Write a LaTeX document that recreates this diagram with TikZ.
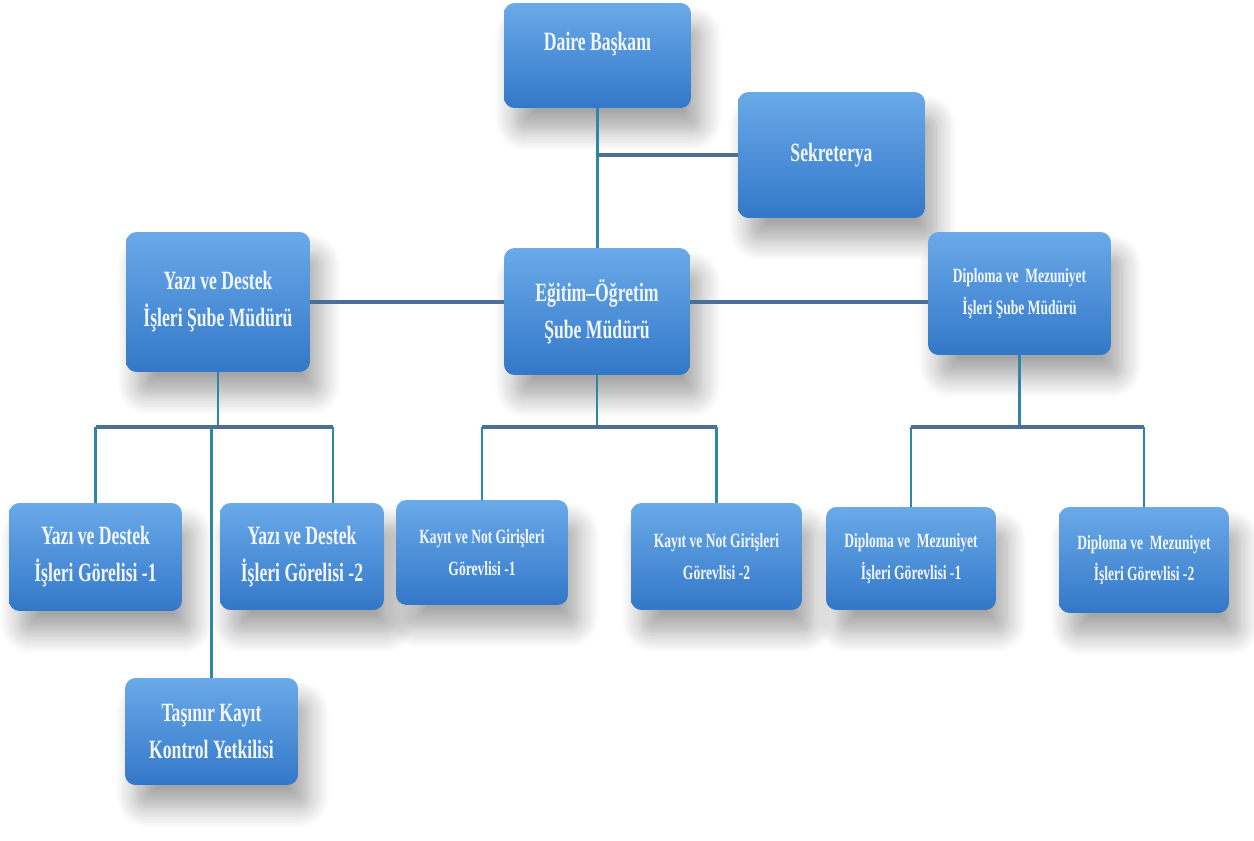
\documentclass[tikz,border=0pt]{standalone}
\usepackage{fontspec}
\setmainfont{Liberation Serif}[FakeStretch=0.67]
\usetikzlibrary{shadows.blur}
\definecolor{boxtop}{HTML}{6AAAE9}
\definecolor{boxbot}{HTML}{3377C8}
\definecolor{stemcol}{HTML}{2C88A6}
\definecolor{buscol}{HTML}{4C6F98}
\definecolor{txtcol}{HTML}{F2F6FF}
\tikzset{
  unit/.style={rounded corners=6pt, top color=boxtop, bottom color=boxbot,
    draw=none, text=txtcol, align=center, inner sep=2pt,
    font=\bfseries\fontsize{15}{21}\selectfont,
    blur shadow={shadow xshift=0.22cm, shadow yshift=-0.45cm,
      shadow blur radius=0.4cm, shadow blur steps=14, shadow opacity=35}},
  smallunit/.style={unit, font=\bfseries\fontsize{11.5}{18}\selectfont},
  stem/.style={stemcol, line width=1.6pt},
  bus/.style={buscol, line width=2.8pt},
}
\begin{document}
\begin{tikzpicture}[x=0.02cm,y=-0.02cm]
  \useasboundingbox (0,0) rectangle (1254,841);
  % top
  \node[unit, minimum width=3.74cm, minimum height=2.1cm, text depth=0.55cm] at (597.5,55.5) (daire) {Daire Başkanı};
  \node[unit, minimum width=3.74cm, minimum height=2.52cm] at (831.5,155) (sekr) {Sekreterya};
  % managers
  \node[unit, minimum width=3.68cm, minimum height=2.8cm] at (218,302) (yazisube) {Yazı ve Destek\\İşleri Şube Müdürü};
  \node[unit, minimum width=3.72cm, minimum height=2.54cm] at (597,311.5) (egitim) {Eğitim–Öğretim\\Şube Müdürü};
  \node[smallunit, minimum width=3.66cm, minimum height=2.46cm] at (1019.5,293.5) (diplsube) {Diploma ve~ Mezuniyet\\İşleri Şube Müdürü};
  % staff
  \node[unit, minimum width=3.46cm, minimum height=2.16cm] at (95.5,557) (yazi1) {Yazı ve Destek\\İşleri Görelisi -1};
  \node[unit, minimum width=3.28cm, minimum height=2.14cm] at (302,556.5) (yazi2) {Yazı ve Destek\\İşleri Görelisi -2};
  \node[unit, minimum width=3.46cm, minimum height=2.14cm] at (211.5,731.5) (tasinir) {Taşınır Kayıt\\Kontrol Yetkilisi};
  \node[smallunit, minimum width=3.44cm, minimum height=2.1cm] at (482,552.5) (kayit1) {Kayıt ve Not Girişleri\\Görevlisi -1};
  \node[smallunit, minimum width=3.42cm, minimum height=2.14cm] at (716.5,556.5) (kayit2) {Kayıt ve Not Girişleri\\Görevlisi -2};
  \node[smallunit, minimum width=3.4cm, minimum height=2.06cm] at (911,558.5) (dipl1) {Diploma ve~ Mezuniyet\\İşleri Görevlisi -1};
  \node[smallunit, minimum width=3.4cm, minimum height=2.12cm] at (1144,560) (dipl2) {Diploma ve~ Mezuniyet\\İşleri Görevlisi -2};
  \coordinate (busy) at (0,427);
  % links
  \draw[stem] (daire.south) -- (daire.south |- egitim.north);
  \draw[bus] (sekr.west) -- (sekr.west -| daire.south);
  \draw[bus] (yazisube.east) -- (yazisube.east -| egitim.west);
  \draw[bus] (egitim.east |- yazisube.east) -- (yazisube.east -| diplsube.west);
  \draw[stem] (yazisube.south) -- (yazisube.south |- busy);
  \draw[stem] (egitim.south) -- (egitim.south |- busy);
  \draw[stem] (diplsube.south) -- (diplsube.south |- busy);
  \draw[bus] (yazi1.north |- busy) -- ([xshift=0.62cm]yazi2.north |- busy);
  \draw[bus] (kayit1.north |- busy) -- (kayit2.north |- busy);
  \draw[bus] (dipl1.north |- busy) -- (dipl2.north |- busy);
  \draw[stem] (yazi1.north) -- (yazi1.north |- busy);
  \draw[stem] ([xshift=0.62cm]yazi2.north) -- ([xshift=0.62cm]yazi2.north |- busy);
  \draw[stem] (tasinir.north) -- (tasinir.north |- busy);
  \draw[stem] (kayit1.north) -- (kayit1.north |- busy);
  \draw[stem] (kayit2.north) -- (kayit2.north |- busy);
  \draw[stem] (dipl1.north) -- (dipl1.north |- busy);
  \draw[stem] (dipl2.north) -- (dipl2.north |- busy);
\end{tikzpicture}
\end{document}
